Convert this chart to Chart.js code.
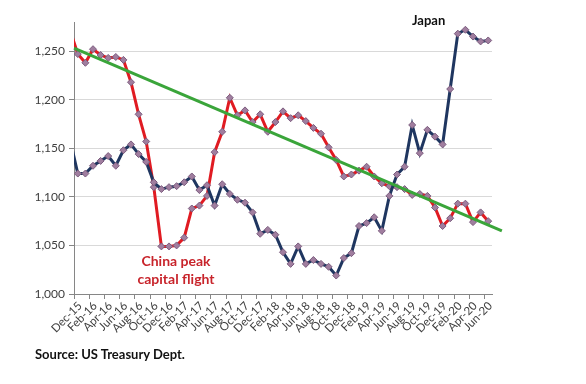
<!DOCTYPE html>
<html>
<head>
<meta charset="utf-8">
<script src="https://cdn.jsdelivr.net/npm/chart.js@4.4.1/dist/chart.umd.min.js"></script>
<style>
  html, body { margin: 0; padding: 0; background: #fff; }
  #wrap { position: relative; width: 586px; height: 384px; font-family: Lato, "Noto Sans", sans-serif; }
  canvas { position: absolute; left: 0; top: 0; }
  .note { position: absolute; font-weight: bold; white-space: nowrap; }
</style>
</head>
<body>
<div id="wrap">
  <canvas id="c" width="586" height="384"></canvas>
  <div class="note" style="left:412px;top:12px;font-size:13px;color:#111;">Japan</div>
  <div class="note" style="left:128px;top:252px;width:96px;text-align:center;font-size:14px;line-height:18px;color:#c8242b;">China peak<br>capital flight</div>
  <div class="note" style="left:35px;top:346px;font-size:13px;color:#111;">Source: US Treasury Dept.</div>
</div>
<script>
// tick labels, one every 2 months (Dec-15 .. Jun-20)
const tickLabels = ['Dec-15','Feb-16','Apr-16','Jun-16','Aug-16','Oct-16','Dec-16','Feb-17','Apr-17','Jun-17',
  'Aug-17','Oct-17','Dec-17','Feb-18','Apr-18','Jun-18','Aug-18','Oct-18','Dec-18','Feb-19',
  'Apr-19','Jun-19','Aug-19','Oct-19','Dec-19','Feb-20','Apr-20','Jun-20'];

// US Treasury holdings, $bn, monthly Dec-15 .. Jun-20
const china = [1247, 1238, 1252, 1246, 1243, 1244, 1241, 1218, 1185, 1157,
  1110, 1049, 1049, 1050, 1058, 1088, 1091, 1101, 1146, 1167,
  1202, 1184, 1189, 1177, 1185, 1167, 1177, 1188, 1181, 1184,
  1178, 1171, 1165, 1151, 1138, 1121, 1123, 1127, 1131, 1121,
  1114, 1111, 1110, 1108, 1102, 1103, 1101, 1089, 1070, 1078,
  1093, 1093, 1074, 1084, 1075];
const japan = [1124, 1124, 1132, 1137, 1142, 1132, 1148, 1154, 1144, 1136,
  1115, 1108, 1110, 1111, 1115, 1121, 1107, 1112, 1091, 1113,
  1103, 1097, 1094, 1084, 1062, 1066, 1061, 1043, 1031, 1049,
  1031, 1035, 1031, 1028, 1019, 1037, 1042, 1070, 1073, 1079,
  1065, 1101, 1123, 1131, 1174, 1145, 1169, 1162, 1154, 1211,
  1268, 1272, 1265, 1260, 1261];
// Nov-15 values, only the line stub at the left edge shows
const chinaPrev = 1271;
const japanPrev = 1158;

// China trend line, start and end (month index, value)
const trendX = [-0.5, 55.8];
const trendY = [1253, 1065];

const yTicks = [1000, 1050, 1100, 1150, 1200, 1250];

const toPoints = (prev, vals) => [prev, ...vals].map((y, i) => ({ x: i - 1, y }));
const marker = ctx => ctx.dataIndex === 0 ? 0 : 3.5;

const seriesStyle = color => ({
  borderColor: color,
  borderWidth: 3,
  tension: 0,
  pointStyle: 'rectRot',
  pointRadius: marker,
  pointBackgroundColor: '#a07e9f',
  pointBorderColor: '#7b5c7e',
  pointBorderWidth: 1,
  clip: { left: 0, top: 8, right: 8, bottom: 8 }
});

new Chart(document.getElementById('c'), {
  type: 'line',
  data: {
    datasets: [
      {
        label: 'Trend',
        data: trendX.map((x, i) => ({ x, y: trendY[i] })),
        borderColor: '#3aa53a',
        borderWidth: 3,
        pointRadius: 0,
        clip: false
      },
      { label: 'Japan', data: toPoints(japanPrev, japan), ...seriesStyle('#1f3660') },
      { label: 'China', data: toPoints(chinaPrev, china), ...seriesStyle('#e01b22') }
    ]
  },
  options: {
    responsive: false,
    devicePixelRatio: 1,
    animation: false,
    layout: { padding: { left: 0, right: 94, top: 22, bottom: 0 } },
    plugins: { legend: { display: false }, tooltip: { enabled: false } },
    scales: {
      x: {
        type: 'linear',
        min: -0.5,
        max: 54.5,
        afterBuildTicks: s => { s.ticks = tickLabels.map((_, k) => ({ value: -0.5 + 2 * k })); },
        afterFit: s => { s.height = 90; },
        ticks: {
          autoSkip: false,
          minRotation: 45,
          maxRotation: 45,
          labelOffset: 6,
          padding: 0,
          color: '#404040',
          font: { family: 'Lato', size: 11.5 },
          callback: (v, i) => tickLabels[i]
        },
        grid: { drawOnChartArea: false, tickLength: 5, color: '#868686' },
        border: { color: '#868686' }
      },
      y: {
        min: 1000,
        max: 1280,
        afterBuildTicks: s => { s.ticks = yTicks.map(v => ({ value: v })); },
        afterFit: s => { s.width = 74; },
        ticks: {
          padding: 4,
          color: '#404040',
          font: { family: 'Lato', size: 12 },
          callback: v => v.toLocaleString('en-US')
        },
        grid: { color: '#d9d9d9', tickColor: '#868686', tickLength: 5 },
        border: { color: '#868686' }
      }
    }
  }
});
</script>
</body>
</html>
